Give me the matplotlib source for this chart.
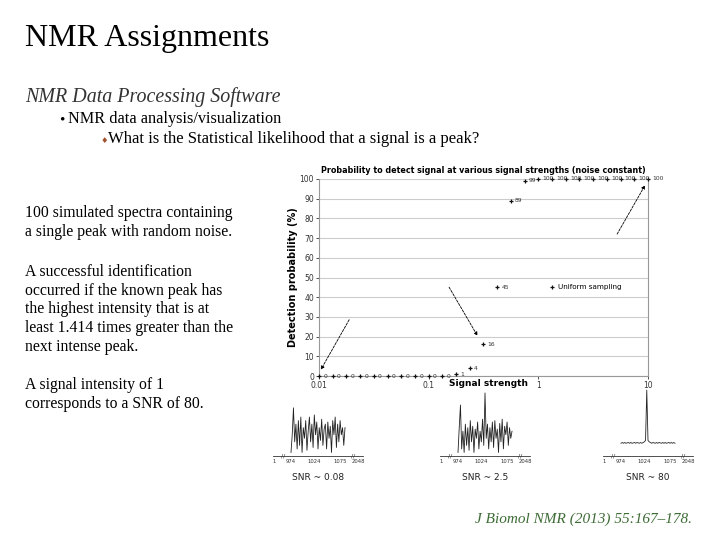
import numpy as np
import matplotlib.pyplot as plt

# detection probability vs signal strength (8 points per decade)
signal = [0.01, 0.0133, 0.0178, 0.0237, 0.0316, 0.0422, 0.0562, 0.075,
          0.1, 0.133, 0.178, 0.237, 0.316, 0.422, 0.562, 0.75,
          1.0, 1.33, 1.78, 2.37, 3.16, 4.22, 5.62, 7.5, 10.0]
prob = [0, 0, 0, 0, 0, 0, 0, 0, 0, 0, 1, 4, 16, 45, 89, 99,
        100, 100, 100, 100, 100, 100, 100, 100, 100]
yticks = [0, 10, 20, 30, 40, 50, 60, 70, 80, 90, 100]
xticks = [0.01, 0.1, 1, 10]
xticklabels = ['0.01', '0.1', '1', '10']

# arrows (start -> end) in data coords
arrows = [((0.0194, 29.8), (0.0101, 2.0)),
          ((0.149, 46.3), (0.287, 19.2)),
          ((5.08, 70.8), (9.66, 98.0))]

spec_low = [0.05, 0.30, 0.68, 0.20, 0.45, 0.10, 0.50, 0.15, 0.55, 0.05, 0.40, 0.25,
            0.50, 0.08, 0.35, 0.55, 0.20, 0.45, 0.12, 0.58, 0.30, 0.48, 0.10, 0.40,
            0.22, 0.52, 0.15, 0.38, 0.45, 0.10, 0.48, 0.25, 0.42, 0.05, 0.50, 0.30,
            0.55, 0.12, 0.45, 0.20, 0.50, 0.30, 0.40, 0.15, 0.40]
spec_mid = [0.05, 0.40, 0.72, 0.10, 0.35, 0.05, 0.45, 0.15, 0.40, 0.08, 0.50, 0.20,
            0.42, 0.05, 0.38, 0.25, 0.48, 0.10, 0.35, 0.20, 0.52, 0.15, 0.89, 0.25,
            0.45, 0.10, 0.40, 0.20, 0.48, 0.12, 0.50, 0.25, 0.38, 0.05, 0.46, 0.20,
            0.52, 0.10, 0.42, 0.30, 0.48, 0.15, 0.40, 0.25, 0.35]
spec_high = [0.18, 0.19, 0.18, 0.19, 0.18, 0.185, 0.19, 0.18, 0.19, 0.18, 0.185, 0.19,
             0.18, 0.19, 0.185, 0.18, 0.19, 0.18, 0.19, 0.20, 0.22, 0.93, 0.22, 0.20,
             0.19, 0.18, 0.19, 0.185, 0.18, 0.19, 0.18, 0.19, 0.185, 0.18, 0.19, 0.18,
             0.19, 0.18, 0.185, 0.19, 0.18, 0.19, 0.18, 0.19, 0.18]
spec_ticks = ['1', '974', '1024', '1075', '2048']
spec_titles = ['SNR ~ 0.08', 'SNR ~ 2.5', 'SNR ~ 80']

W, H = 720, 540
fig = plt.figure(figsize=(7.2, 5.4), dpi=100)
serif = 'Liberation Serif'


def fx(x):
    return x / W


def fy(y):
    return 1 - y / H


# ---- slide text ----
fig.text(fx(25), fy(46), 'NMR Assignments', family=serif, fontsize=23, va='baseline')
fig.text(fx(25), fy(102), 'NMR Data Processing Software', family=serif, style='italic',
         fontsize=14.4, color='#333333', va='baseline')
fig.text(fx(59), fy(123), '\u2022', family=serif, fontsize=11, va='baseline')
fig.text(fx(68), fy(123), 'NMR data analysis/visualization', family=serif, fontsize=11.7,
         va='baseline')
fig.text(fx(101), fy(143), '\u2666', family='DejaVu Sans', fontsize=6, color='#a0522d',
         va='baseline')
fig.text(fx(108), fy(143), 'What is the Statistical likelihood that a signal is a peak?',
         family=serif, fontsize=12, va='baseline')

paragraphs = [(217, ['100 simulated spectra containing', 'a single peak with random noise.']),
              (276, ['A successful identification', 'occurred if the known peak has',
                     'the highest intensity that is at', 'least 1.414 times greater than the',
                     'next intense peak.']),
              (389, ['A signal intensity of 1', 'corresponds to a SNR of 80.'])]
for y0, lines in paragraphs:
    for i, line in enumerate(lines):
        fig.text(fx(25), fy(y0 + i * 18.7), line, family=serif, fontsize=11.3, va='baseline')

fig.text(fx(692), fy(523), 'J Biomol NMR (2013) 55:167\u2013178.', family=serif,
         style='italic', fontsize=11, color='#3d6b35', ha='right', va='baseline')

# ---- main chart ----
ax = fig.add_axes([fx(319), fy(376), 329 / W, 197 / H])
ax.set_xscale('log')
ax.set_xlim(0.01, 10)
ax.set_ylim(0, 100)
ax.plot(signal, prob, linestyle='none', marker='+', markersize=3.5, mew=0.9,
        color='#111111', label='Uniform sampling', clip_on=False, zorder=3)
for s, p in zip(signal, prob):
    ax.annotate(str(p), (s, p), xytext=(3, 0), textcoords='offset points',
                fontsize=4.3, color='#333333', va='center', annotation_clip=False)
for (x0, y0), (x1, y1) in arrows:
    ax.annotate('', xy=(x1, y1), xytext=(x0, y0),
                arrowprops=dict(arrowstyle='-|>', lw=0.6, linestyle=(0, (3, 1.5)),
                                color='black', mutation_scale=5))

ax.set_yticks(yticks)
ax.set_xticks(xticks)
ax.set_xticklabels(xticklabels)
ax.minorticks_off()
ax.tick_params(labelsize=5.5, colors='#333333', length=2, width=0.6, pad=1.5)
ax.grid(axis='y', color='#cccccc', lw=0.8)
ax.set_axisbelow(True)
for side in ['left', 'right', 'bottom']:
    ax.spines[side].set_color('#999999')
    ax.spines[side].set_linewidth(0.8)
ax.spines['top'].set_visible(False)
ax.set_ylabel('Detection probability (%)', fontsize=7, fontweight='bold', labelpad=1.5)
ax.text(0.514, -0.04, 'Signal strength', transform=ax.transAxes, fontsize=6.5,
        fontweight='bold', ha='center', va='center')
ax.set_title('Probability to detect signal at various signal strengths (noise constant)',
             fontsize=5.8, fontweight='bold', pad=4)
ax.legend(loc='center left', bbox_to_anchor=(0.69, 0.45), frameon=False, fontsize=5.2,
          handlelength=0.6, handletextpad=0.5, borderpad=0)

# ---- example spectra ----
tick_pos = [1, 20, 46, 75, 95]
lefts = [273, 440, 603]
for left, spec, title in zip(lefts, [spec_low, spec_mid, spec_high], spec_titles):
    sa = fig.add_axes([fx(left), fy(456), 90 / W, 68 / H])
    sa.patch.set_visible(False)
    sx = np.linspace(20, 80, len(spec))
    sa.plot(sx, spec, color='#222222', lw=0.6, clip_on=False)
    sa.set_xlim(0, 100)
    sa.set_ylim(0, 0.96)
    for side in ['left', 'right', 'top']:
        sa.spines[side].set_visible(False)
    sa.spines['bottom'].set_linewidth(0.6)
    sa.spines['bottom'].set_color('#333333')
    sa.set_yticks([])
    sa.set_xticks(tick_pos)
    sa.set_xticklabels(spec_ticks)
    sa.tick_params(axis='x', length=0, labelsize=3.8, pad=2, colors='#333333')
    for bx in [11, 89]:
        sa.text(bx, 0, '//', fontsize=4.5, ha='center', va='center', color='#333333')
    sa.text(0.5, -0.31, title, transform=sa.transAxes, fontsize=6.5, color='#222222',
            ha='center', va='center')

fig.savefig('out.png', dpi=100)
